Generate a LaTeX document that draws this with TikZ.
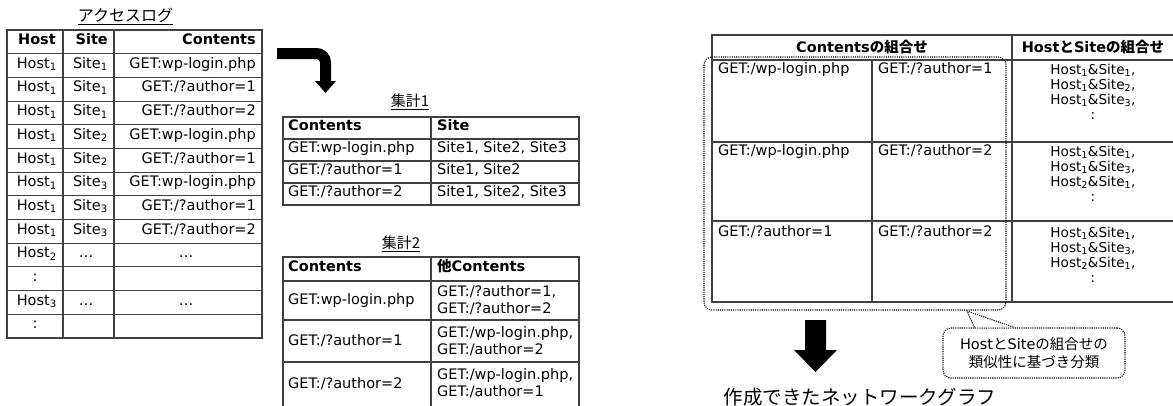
\documentclass[tikz,border=0pt]{standalone}
\usepackage{fontspec}
\setmainfont{DejaVu Sans}
\newfontfamily\jpf{Noto Sans CJK JP}
\newcommand\J[1]{{\jpf #1}}
\newcommand\sbs[1]{\textsubscript{#1}}
\newcommand\fs{\fontsize{14.5}{17}\selectfont}
\newcommand\fsm{\fontsize{13.6}{15}\selectfont}
\tikzset{
  tline/.style={draw=black!75, line width=1.1pt},
  txt/.style={inner sep=0pt, font=\fs},
  hd/.style={inner sep=0pt, font=\fs\bfseries},
  smtxt/.style={inner sep=0pt, font=\fsm, align=center, anchor=north},
  ttl/.style={inner sep=0pt, anchor=base},
  dotline/.style={line width=1.1pt, dash pattern=on 1.1pt off 1.1pt},
  bigarrow/.style={fill=black}
}
\begin{document}
\begin{tikzpicture}[x=1pt,y=-1pt]
\useasboundingbox (0,0) rectangle (1173,405);

% ---------- Access log table ----------
\node[ttl, font=\jpf\fontsize{16}{18}\selectfont] (tLog) at (125.5,21) {アクセスログ};
\draw[line width=0.8pt] ([yshift=-3pt]tLog.base west) -- ([yshift=-3pt]tLog.base east);
\draw[tline] (7,30) rectangle (262,338);
\foreach \y in {53.69,77.38,101.07,124.76,148.45,172.14,195.83,219.52,243.21,266.9,290.59,314.28}
  \draw[tline] (7,\y) -- (262,\y);
\draw[tline] (63,30) -- (63,338);
\draw[tline] (114,30) -- (114,338);

\node[hd, anchor=mid east] (Lh1) at (56,41.85) {Host};
\node[hd, anchor=mid east] (Lh2) at (108,41.85) {Site};
\node[hd, anchor=mid east] (Lh3) at (256,41.85) {Contents};

\node[txt, anchor=mid east] (La1) at (57,65.54) {Host\sbs1};
\node[txt, anchor=mid east] (Lb1) at (108,65.54) {Site\sbs1};
\node[txt, anchor=mid east] (Lc1) at (256,65.54) {GET:wp-login.php};
\node[txt, anchor=mid east] (La2) at (57,89.23) {Host\sbs1};
\node[txt, anchor=mid east] (Lb2) at (108,89.23) {Site\sbs1};
\node[txt, anchor=mid east] (Lc2) at (256,89.23) {GET:/?author=1};
\node[txt, anchor=mid east] (La3) at (57,112.92) {Host\sbs1};
\node[txt, anchor=mid east] (Lb3) at (108,112.92) {Site\sbs1};
\node[txt, anchor=mid east] (Lc3) at (256,112.92) {GET:/?author=2};
\node[txt, anchor=mid east] (La4) at (57,136.61) {Host\sbs1};
\node[txt, anchor=mid east] (Lb4) at (108,136.61) {Site\sbs2};
\node[txt, anchor=mid east] (Lc4) at (256,136.61) {GET:wp-login.php};
\node[txt, anchor=mid east] (La5) at (57,160.30) {Host\sbs1};
\node[txt, anchor=mid east] (Lb5) at (108,160.30) {Site\sbs2};
\node[txt, anchor=mid east] (Lc5) at (256,160.30) {GET:/?author=1};
\node[txt, anchor=mid east] (La6) at (57,183.99) {Host\sbs1};
\node[txt, anchor=mid east] (Lb6) at (108,183.99) {Site\sbs3};
\node[txt, anchor=mid east] (Lc6) at (256,183.99) {GET:wp-login.php};
\node[txt, anchor=mid east] (La7) at (57,207.68) {Host\sbs1};
\node[txt, anchor=mid east] (Lb7) at (108,207.68) {Site\sbs3};
\node[txt, anchor=mid east] (Lc7) at (256,207.68) {GET:/?author=1};
\node[txt, anchor=mid east] (La8) at (57,231.37) {Host\sbs1};
\node[txt, anchor=mid east] (Lb8) at (108,231.37) {Site\sbs3};
\node[txt, anchor=mid east] (Lc8) at (256,231.37) {GET:/?author=2};
\node[txt, anchor=mid east] (La9) at (57,255.06) {Host\sbs2};
\node[txt, anchor=mid] (Lb9) at (86,255.06) {…};
\node[txt, anchor=mid] (Lc9) at (186,255.06) {…};
\node[txt, anchor=mid] (La10) at (35,278.75) {:};
\node[txt, anchor=mid east] (La11) at (57,302.44) {Host\sbs3};
\node[txt, anchor=mid] (Lb11) at (86,302.44) {…};
\node[txt, anchor=mid] (Lc11) at (186,302.44) {…};
\node[txt, anchor=mid] (La12) at (35,326.13) {:};

% ---------- curved arrow ----------
\coordinate (ca1) at (277,53.5);
\coordinate (ca2) at (325.5,53.5);
\coordinate (ca3) at (325.5,82);
\draw[line width=11pt, rounded corners=9pt] (ca1) -- (ca2) -- (ca3);
\fill[bigarrow] (315,81) -- (336,81) -- (325.5,93) -- cycle;

% ---------- Summary 1 ----------
\node[ttl, font=\jpf\fontsize{15}{17}\selectfont] (tS1) at (410,106) {集計1};
\draw[line width=0.8pt] ([yshift=-3pt]tS1.base west) -- ([yshift=-3pt]tS1.base east);
\draw[tline] (283,117) rectangle (579,205);
\foreach \y in {139,161,183} \draw[tline] (283,\y) -- (579,\y);
\draw[tline] (431,117) -- (431,205);
\node[hd, anchor=mid west] (Sa0) at (288,128) {Contents};
\node[hd, anchor=mid west] (Sb0) at (437,128) {Site};
\node[txt, anchor=mid west] (Sa1) at (288,150) {GET:wp-login.php};
\node[txt, anchor=mid west] (Sb1) at (437,150) {Site1, Site2, Site3};
\node[txt, anchor=mid west] (Sa2) at (288,172) {GET:/?author=1};
\node[txt, anchor=mid west] (Sb2) at (437,172) {Site1, Site2};
\node[txt, anchor=mid west] (Sa3) at (288,194) {GET:/?author=2};
\node[txt, anchor=mid west] (Sb3) at (437,194) {Site1, Site2, Site3};

% ---------- Summary 2 ----------
\node[ttl, font=\jpf\fontsize{15}{17}\selectfont] (tS2) at (401,248) {集計2};
\draw[line width=0.8pt] ([yshift=-3pt]tS2.base west) -- ([yshift=-3pt]tS2.base east);
\draw[tline] (283,408) -- (283,257) -- (579,257) -- (579,408);
\foreach \y in {281,320,362} \draw[tline] (283,\y) -- (579,\y);
\draw[tline] (431,257) -- (431,408);
\node[hd, anchor=mid west] (Ta0) at (288,269) {Contents};
\node[hd, anchor=mid west] (Tb0) at (437,269) {\J{他}Contents};
\node[txt, anchor=west] (Ta1) at (288,300.5) {GET:wp-login.php};
\node[txt, anchor=west, align=left] (Tb1) at (437,300.5) {GET:/?author=1,\\GET:/?author=2};
\node[txt, anchor=west] (Ta2) at (288,341) {GET:/?author=1};
\node[txt, anchor=west, align=left] (Tb2) at (437,341) {GET:/wp-login.php,\\GET:/author=2};
\node[txt, anchor=west] (Ta3) at (288,383.5) {GET:/?author=2};
\node[txt, anchor=west, align=left] (Tb3) at (437,383.5) {GET:/wp-login.php,\\GET:/author=1};

% ---------- Combination table ----------
\draw[tline] (1176,35) -- (712,35) -- (712,302) -- (1176,302);
\foreach \y in {60,142,221} \draw[tline] (712,\y) -- (1176,\y);
\draw[tline] (872,60) -- (872,302);
\draw[tline] (1012,35) -- (1012,302);
\node[hd] (Ch1) at (862,47.5) {Contents\J{\bfseries の組合せ}};
\node[hd] (Ch2) at (1093,47.5) {Host\J{\bfseries と}Site\J{\bfseries の組合せ}};

\node[txt, anchor=mid west] (Ca1) at (718,71) {GET:/wp-login.php};
\node[txt, anchor=mid west] (Cb1) at (878,71) {GET:/?author=1};
\node[smtxt] (Cc1) at (1093,64) {Host\sbs1\&Site\sbs1,\\Host\sbs1\&Site\sbs2,\\Host\sbs1\&Site\sbs3,\\:};
\node[txt, anchor=mid west] (Ca2) at (718,153) {GET:/wp-login.php};
\node[txt, anchor=mid west] (Cb2) at (878,153) {GET:/?author=2};
\node[smtxt] (Cc2) at (1093,146) {Host\sbs1\&Site\sbs1,\\Host\sbs1\&Site\sbs3,\\Host\sbs2\&Site\sbs1,\\:};
\node[txt, anchor=mid west] (Ca3) at (718,234) {GET:/?author=1};
\node[txt, anchor=mid west] (Cb3) at (878,234) {GET:/?author=2};
\node[smtxt] (Cc3) at (1093,227) {Host\sbs1\&Site\sbs1,\\Host\sbs1\&Site\sbs3,\\Host\sbs2\&Site\sbs1,\\:};

% dotted group
\draw[dotline, rounded corners=8pt] (704,57) rectangle (1006,310);

% callout
\node[draw, dotline, rounded corners=8pt, minimum width=182pt, minimum height=50pt, inner sep=0pt,
      align=center, font=\fontsize{14.5}{18}\selectfont] (cl) at (1034,353)
  {Host\J{と}Site\J{の組合せの}\\\J{類似性に基づき分類}};
\coordinate (tip) at (967,311);
\fill[white] ([xshift=31pt]cl.north west) -- (tip) -- ([xshift=73pt]cl.north west) -- cycle;
\draw[dotline] ([xshift=32pt]cl.north west) -- (tip) -- ([xshift=72pt]cl.north west);

% down arrow
\coordinate (da) at (815.5,320);
\fill[bigarrow] (805,320) -- (826,320) -- (826,350) -- (837,350) -- (815.5,372) -- (794,350) -- (805,350) -- cycle;

\node[ttl, font=\jpf\fontsize{19.5}{22}\selectfont] (res) at (860,404) {作成できたネットワークグラフ};
\end{tikzpicture}
\end{document}
